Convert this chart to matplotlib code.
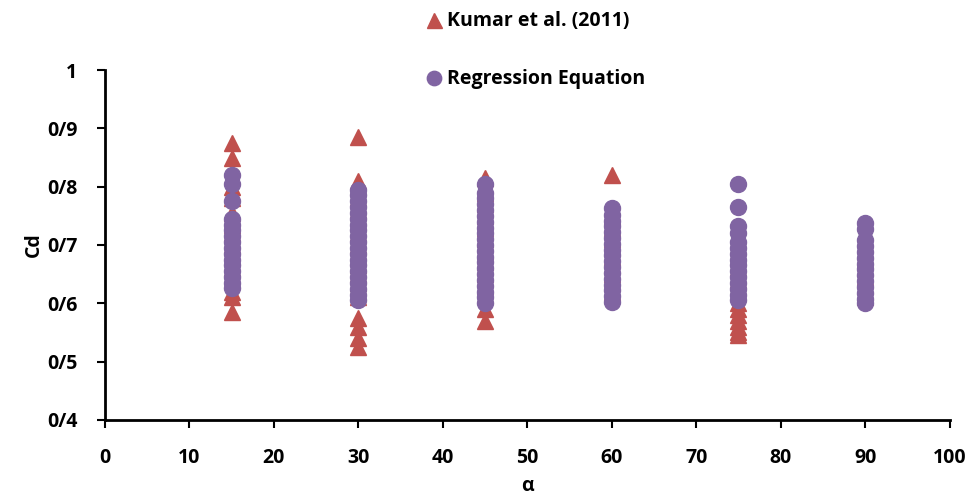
import matplotlib
matplotlib.use("Agg")
import matplotlib.pyplot as plt
from matplotlib.ticker import FixedLocator

plt.rcParams['font.family'] = ['Open Sans', 'DejaVu Sans']
plt.rcParams['font.weight'] = 'bold'

# Kumar et al. (2011) values, per angle
kumar_15 = [0.875, 0.85, 0.80, 0.78, 0.755, 0.735, 0.72, 0.70, 0.68, 0.66, 0.64, 0.62, 0.61, 0.585]
kumar_30 = [0.885, 0.81, 0.80, 0.78, 0.76, 0.74, 0.72, 0.70, 0.68, 0.665, 0.65, 0.635, 0.62, 0.61,
            0.575, 0.56, 0.54, 0.525]
kumar_45 = [0.815, 0.79, 0.77, 0.75, 0.73, 0.71, 0.69, 0.67, 0.65, 0.63, 0.615, 0.59, 0.57]
kumar_60 = [0.82, 0.75, 0.73, 0.71, 0.695, 0.68, 0.665, 0.65, 0.635, 0.62]
kumar_75 = [0.68, 0.66, 0.64, 0.62, 0.60, 0.59, 0.58, 0.57, 0.56, 0.55, 0.545]
kumar_90 = [0.69, 0.675, 0.66, 0.645, 0.63, 0.62, 0.61]

# Regression equation values, per angle
reg_15 = [0.82, 0.805, 0.775, 0.745, 0.735, 0.725, 0.715, 0.705, 0.695, 0.685, 0.675, 0.665,
          0.655, 0.645, 0.635, 0.627]
reg_30 = [0.795, 0.785, 0.775, 0.765, 0.755, 0.745, 0.735, 0.725, 0.715, 0.705, 0.695, 0.685,
          0.675, 0.665, 0.655, 0.645, 0.635, 0.625, 0.615, 0.605]
reg_45 = [0.805, 0.79, 0.78, 0.77, 0.76, 0.75, 0.74, 0.73, 0.72, 0.71, 0.70, 0.69, 0.68, 0.67,
          0.66, 0.65, 0.64, 0.63, 0.62, 0.61, 0.60]
reg_60 = [0.763, 0.752, 0.742, 0.732, 0.722, 0.712, 0.702, 0.692, 0.682, 0.672, 0.662, 0.652,
          0.642, 0.632, 0.622, 0.612, 0.603]
reg_75 = [0.805, 0.765, 0.732, 0.72, 0.705, 0.695, 0.685, 0.675, 0.665, 0.655, 0.645, 0.635,
          0.625, 0.615, 0.605]
reg_90 = [0.737, 0.728, 0.708, 0.698, 0.688, 0.678, 0.668, 0.658, 0.648, 0.638, 0.628, 0.618,
          0.608, 0.60]

angles = [15, 30, 45, 60, 75, 90]
kumar = [kumar_15, kumar_30, kumar_45, kumar_60, kumar_75, kumar_90]
reg = [reg_15, reg_30, reg_45, reg_60, reg_75, reg_90]

y_ticks = [0.4, 0.5, 0.6, 0.7, 0.8, 0.9, 1.0]
y_labels = ['0/4', '0/5', '0/6', '0/7', '0/8', '0/9', '1']

kx, ky, rx, ry = [], [], [], []
for a, k, r in zip(angles, kumar, reg):
    kx += [a] * len(k)
    ky += k
    rx += [a] * len(r)
    ry += r

fig = plt.figure(figsize=(9.72, 5.01), dpi=100)
ax = fig.add_axes([0.108, 0.162, 0.869, 0.698])

ax.plot(kx, ky, '^', color='#C0504D', markersize=12, linestyle='none', label='Kumar et al. (2011)')
ax.plot(rx, ry, 'o', color='#8064A2', markersize=11.5, linestyle='none', label='Regression Equation')

ax.set_xlim(0, 100)
ax.set_ylim(0.4, 1.0)
ax.set_xticks(range(0, 101, 10))
ax.yaxis.set_major_locator(FixedLocator(y_ticks))
ax.set_yticklabels(y_labels)

for s in ['top', 'right']:
    ax.spines[s].set_visible(False)
for s in ['left', 'bottom']:
    ax.spines[s].set_linewidth(2)
ax.tick_params(axis='both', direction='out', length=6, width=1.5, labelsize=14)
ax.tick_params(axis='y', pad=14)
ax.tick_params(axis='x', pad=14)

ax.set_xlabel('α', fontsize=14, fontweight='bold', labelpad=6)
ax.set_ylabel('Cd', fontsize=14, fontweight='bold', labelpad=2)

fig.legend(loc='upper left', bbox_to_anchor=(0.42, 1.012), frameon=False,
           fontsize=14, labelspacing=1.95, handlelength=0.8, handletextpad=0.3,
           markerscale=0.9)

fig.savefig('out.png', dpi=100)
